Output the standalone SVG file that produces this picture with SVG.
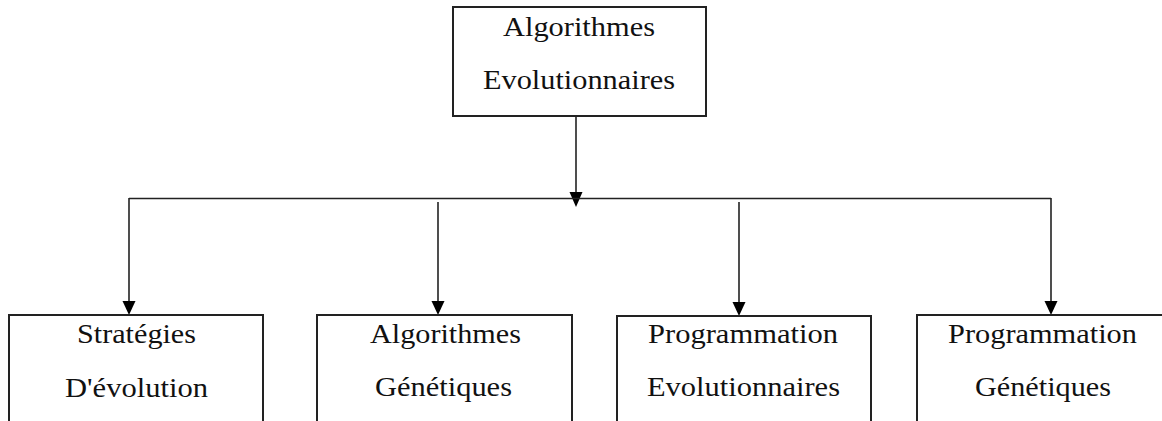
<svg xmlns="http://www.w3.org/2000/svg" width="1162" height="421" viewBox="0 0 1162 421">
<style>
.box{fill:#fff;stroke:#222;stroke-width:2}
.t{font-family:"Liberation Serif","Times New Roman",serif;font-size:27px;fill:#111;text-anchor:middle}
.c{fill:none;stroke:#222;stroke-width:1.6}
.ah{fill:#000}
</style>
<g id="connectors">
<line class="c" x1="576" y1="116" x2="576" y2="200"/>
<path class="ah" d="M569.5,192 L582.5,192 L576,207 Z"/>
<line class="c" x1="129" y1="198.5" x2="1051" y2="198.5"/>
<line class="c" x1="129" y1="198" x2="129" y2="301"/>
<path class="ah" d="M122.5,301 L135.5,301 L129,315 Z"/>
<line class="c" x1="438" y1="202" x2="438" y2="301"/>
<path class="ah" d="M431.5,301 L444.5,301 L438,315 Z"/>
<line class="c" x1="739" y1="202" x2="739" y2="302"/>
<path class="ah" d="M732.5,302 L745.5,302 L739,316 Z"/>
<line class="c" x1="1051" y1="198" x2="1051" y2="301"/>
<path class="ah" d="M1044.5,301 L1057.5,301 L1051,315 Z"/>
</g>
<g id="root">
<rect class="box" x="453" y="7" width="253" height="109"/>
<text class="t" x="579" y="36" textLength="152" lengthAdjust="spacingAndGlyphs">Algorithmes</text>
<text class="t" x="579" y="89" textLength="192" lengthAdjust="spacingAndGlyphs">Evolutionnaires</text>
</g>
<g id="strategies">
<rect class="box" x="9" y="315" width="254" height="130"/>
<text class="t" x="136.5" y="343" textLength="119" lengthAdjust="spacingAndGlyphs">Stratégies</text>
<text class="t" x="136.5" y="397" textLength="143" lengthAdjust="spacingAndGlyphs">D'évolution</text>
</g>
<g id="algo-gen">
<rect class="box" x="317" y="315" width="255" height="130"/>
<text class="t" x="445.5" y="343" textLength="151" lengthAdjust="spacingAndGlyphs">Algorithmes</text>
<text class="t" x="443.5" y="396" textLength="137" lengthAdjust="spacingAndGlyphs">Génétiques</text>
</g>
<g id="prog-evo">
<rect class="box" x="617" y="316" width="254" height="130"/>
<text class="t" x="743" y="343" textLength="190" lengthAdjust="spacingAndGlyphs">Programmation</text>
<text class="t" x="743.5" y="396" textLength="193" lengthAdjust="spacingAndGlyphs">Evolutionnaires</text>
</g>
<g id="prog-gen">
<rect class="box" x="917" y="315" width="260" height="130"/>
<text class="t" x="1042.5" y="343" textLength="189" lengthAdjust="spacingAndGlyphs">Programmation</text>
<text class="t" x="1043" y="396" textLength="136" lengthAdjust="spacingAndGlyphs">Génétiques</text>
</g>
</svg>
